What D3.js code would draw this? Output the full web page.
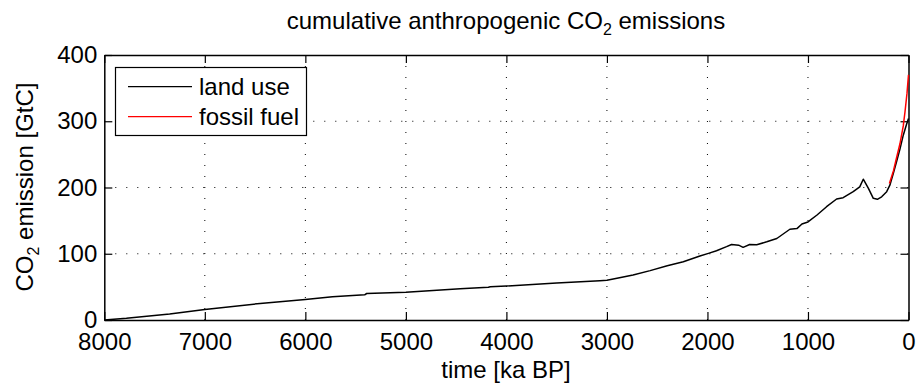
<!DOCTYPE html>
<html><head><meta charset="utf-8">
<script src="https://cdn.jsdelivr.net/npm/d3@7"></script>
<style>
html,body{margin:0;padding:0;background:#fff;}
text{font-family:"Liberation Sans",Arial,Helvetica,sans-serif;fill:#000;}
</style></head>
<body><svg id="chart" width="917" height="385"></svg>
<script>
// ---- data (years BP, cumulative GtC) ----
const landYears = [8000,7780,7350,7000,6450,6000,5730,5410,5390,5000,4460,4180,4160,4000,3500,3070,3000,2900,2740,2570,2400,2240,2075,1990,1910,1810,1760,1690,1645,1580,1510,1410,1310,1180,1110,1060,1000,910,815,715,650,550,485,450,400,350,310,267,217,184,150,117,85,52,20,0];
const landValues = [0,2.5,9,16,25,31,35,38,40,42,47,49.5,50.3,51.3,56,59.3,60,63,68,74.5,82,88,96.6,100.6,104.6,110.7,114,113,109.7,114,113.5,118,123,137,138,145,148,158.5,171,182.6,184.6,193.7,201,212.5,199,183.7,182.2,186,193.7,204,222,240,258,279,295,304];
const fossilYears = [190,150,117,85,52,35,15,0];
const fossilValues = [206,225,246,266,293,314,342,370];
const xTicks = [8000,7000,6000,5000,4000,3000,2000,1000,0];
const yTicks = [0,100,200,300,400];
const seriesNames = ["land use","fossil fuel"];
const seriesColors = ["#000000","#ff0000"];

const svg = d3.select("#chart");
const x = d3.scaleLinear().domain([8000,0]).range([104.3,908.5]);
const y = d3.scaleLinear().domain([0,400]).range([320,55]);
const FS = 24;

// grid
const grid = svg.append("g");
grid.selectAll("line.gx").data(xTicks.slice(1,-1)).join("line")
  .attr("x1",d=>x(d)).attr("x2",d=>x(d)).attr("y1",y(0)).attr("y2",y(400))
  .attr("stroke","#000").attr("stroke-width",1).attr("stroke-dasharray","1,10");
grid.selectAll("line.gy").data(yTicks.slice(1,-1)).join("line")
  .attr("x1",x(8000)).attr("x2",x(0)).attr("y1",d=>y(d)).attr("y2",d=>y(d))
  .attr("stroke","#000").attr("stroke-width",1).attr("stroke-dasharray","1,10");

// axes
function styleAxis(g){
  g.selectAll("path.domain").attr("stroke","#000").attr("stroke-width",1.5);
  g.selectAll(".tick line").attr("stroke","#000").attr("stroke-width",1.2);
  g.selectAll("text").attr("font-size",FS).attr("font-family","Liberation Sans, Arial, sans-serif");
}
svg.append("g").attr("transform",`translate(0,${y(0)})`)
  .call(d3.axisBottom(x).tickValues(xTicks).tickSizeInner(-8).tickSizeOuter(0).tickPadding(13).tickFormat(d3.format("d")))
  .call(styleAxis);
svg.append("g").attr("transform",`translate(0,${y(400)})`)
  .call(d3.axisTop(x).tickValues(xTicks).tickSizeInner(-8).tickSizeOuter(0).tickFormat(""))
  .call(styleAxis);
svg.append("g").attr("transform",`translate(${x(8000)},0)`)
  .call(d3.axisLeft(y).tickValues(yTicks).tickSizeInner(-8).tickSizeOuter(0).tickPadding(7).tickFormat(d3.format("d")))
  .call(styleAxis);
svg.append("g").attr("transform",`translate(${x(0)},0)`)
  .call(d3.axisRight(y).tickValues(yTicks).tickSizeInner(-8).tickSizeOuter(0).tickFormat(""))
  .call(styleAxis);
svg.selectAll(".domain").attr("fill","none");

// lines
const line = d3.line().x(d=>x(d[0])).y(d=>y(d[1]));
const landData = landYears.map((v,i)=>[v,landValues[i]]);
const fossilData = fossilYears.map((v,i)=>[v,fossilValues[i]]);
svg.append("path").datum(landData).attr("d",line).attr("fill","none")
  .attr("stroke",seriesColors[0]).attr("stroke-width",1.5).attr("stroke-linejoin","round");
svg.append("path").datum(fossilData).attr("d",line).attr("fill","none")
  .attr("stroke",seriesColors[1]).attr("stroke-width",1.5).attr("stroke-linejoin","round");

// title
const t = svg.append("text").attr("x",506).attr("y",29).attr("text-anchor","middle").attr("font-size",FS);
t.append("tspan").text("cumulative anthropogenic CO");
t.append("tspan").attr("font-size",16).attr("dy",6).text("2");
t.append("tspan").attr("dy",-6).text(" emissions");

// x label
svg.append("text").attr("x",506).attr("y",378).attr("text-anchor","middle").attr("font-size",FS).text("time [ka BP]");

// y label
const yl = svg.append("text").attr("transform","translate(33,187) rotate(-90)").attr("text-anchor","middle").attr("font-size",FS);
yl.append("tspan").text("CO");
yl.append("tspan").attr("font-size",16).attr("dy",6).text("2");
yl.append("tspan").attr("dy",-6).text(" emission [GtC]");

// legend
const lg = svg.append("g");
lg.append("rect").attr("x",115.5).attr("y",67.5).attr("width",191).attr("height",68)
  .attr("fill","#fff").attr("stroke","#000").attr("stroke-width",1.2);
seriesNames.forEach((n,i)=>{
  const cy = 86.7 + i*30;
  lg.append("line").attr("x1",128).attr("x2",192).attr("y1",cy).attr("y2",cy)
    .attr("stroke",seriesColors[i]).attr("stroke-width",1.2);
  lg.append("text").attr("x",199).attr("y",cy).attr("dy","0.35em").attr("font-size",FS).text(n);
});
</script></body></html>
